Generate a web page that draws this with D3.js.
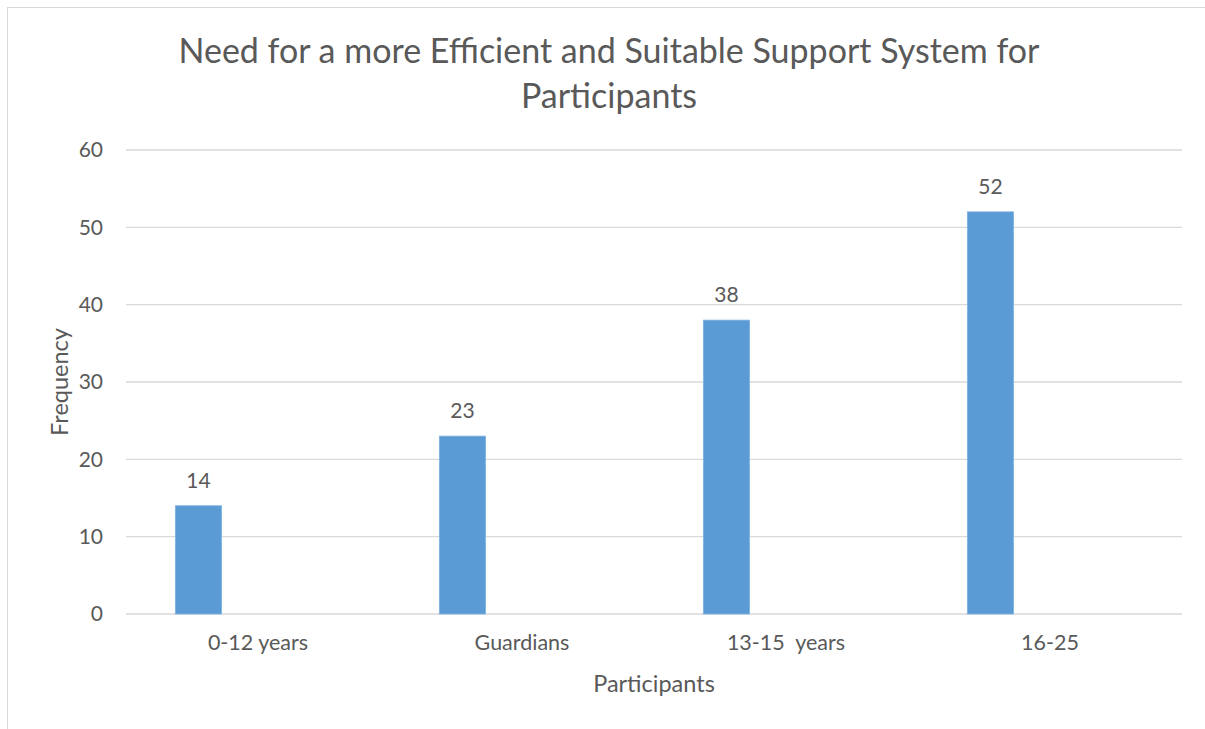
<!DOCTYPE html>
<html>
<head>
<meta charset="utf-8">
<title>Need for a more Efficient and Suitable Support System for Participants</title>
<script src="https://cdn.jsdelivr.net/npm/d3@7"></script>
<style>
  body { margin: 0; background: #fff; }
  text { font-family: Lato, "Open Sans", sans-serif; fill: #595959; }
</style>
</head>
<body>
<svg id="chart" width="1205" height="729"></svg>
<script>
// data
var categories = ["0-12 years", "Guardians", "13-15  years", "16-25"];
var frequency = [14, 23, 38, 52];
var yTicks = [0, 10, 20, 30, 40, 50, 60];
var titleLines = ["Need for a more Efficient and Suitable Support System for", "Participants"];

var svg = d3.select("#chart");
var margin = { top: 150, right: 23, bottom: 115, left: 126 };
var width = 1205 - margin.left - margin.right;
var height = 729 - margin.top - margin.bottom;

// outer chart border (cropped on the right and bottom)
svg.append("rect")
  .attr("x", 7.5).attr("y", 7.5)
  .attr("width", 1220).attr("height", 740)
  .attr("fill", "none")
  .attr("stroke", "#d9d9d9");

var g = svg.append("g").attr("transform", "translate(" + margin.left + "," + margin.top + ")");

var x = d3.scaleBand().domain(categories).range([0, width]);
var y = d3.scaleLinear().domain([0, 60]).range([height, 0]);

// gridlines
g.append("g")
  .selectAll("line")
  .data(yTicks)
  .enter().append("line")
  .attr("x1", 0).attr("x2", width)
  .attr("y1", function (d) { return y(d); })
  .attr("y2", function (d) { return y(d); })
  .attr("stroke", "#d9d9d9")
  .attr("stroke-width", 1.3);

// y axis labels
var yAxis = g.append("g").call(d3.axisLeft(y).tickValues(yTicks).tickSize(0).tickPadding(23));
yAxis.select(".domain").remove();
yAxis.selectAll("text").style("font-size", "21px").attr("fill", "#595959");

// x axis labels
var xAxis = g.append("g")
  .attr("transform", "translate(0," + height + ")")
  .call(d3.axisBottom(x).tickSize(0).tickPadding(21));
xAxis.select(".domain").remove();
xAxis.selectAll("text").style("font-size", "21.5px").attr("fill", "#595959").style("white-space", "pre");

// bars sit left of the band centre (empty second series in the original)
var barOffset = x.bandwidth() * 0.187;
var barWidth = x.bandwidth() * 0.175;

g.append("g")
  .selectAll("rect")
  .data(frequency)
  .enter().append("rect")
  .attr("x", function (d, i) { return x(categories[i]) + barOffset; })
  .attr("y", function (d) { return y(d); })
  .attr("width", barWidth)
  .attr("height", function (d) { return height - y(d); })
  .attr("fill", "#5b9bd5")
  .attr("stroke", "#7fb2e0")
  .attr("stroke-width", 0.8);

// value labels
g.append("g")
  .selectAll("text")
  .data(frequency)
  .enter().append("text")
  .attr("x", function (d, i) { return x(categories[i]) + barOffset + barWidth / 2; })
  .attr("y", function (d) { return y(d) - 18; })
  .attr("text-anchor", "middle")
  .style("font-size", "21px")
  .text(function (d) { return d; });

// title
svg.append("g")
  .selectAll("text")
  .data(titleLines)
  .enter().append("text")
  .attr("x", 609)
  .attr("y", function (d, i) { return 63 + i * 45; })
  .attr("text-anchor", "middle")
  .style("font-size", "34px")
  .text(function (d) { return d; });

// axis titles
svg.append("text")
  .attr("x", margin.left + width / 2)
  .attr("y", 692)
  .attr("text-anchor", "middle")
  .style("font-size", "23.5px")
  .text("Participants");

svg.append("text")
  .attr("transform", "translate(68," + (margin.top + height / 2) + ") rotate(-90)")
  .attr("text-anchor", "middle")
  .style("font-size", "23.5px")
  .text("Frequency");
</script>
</body>
</html>
